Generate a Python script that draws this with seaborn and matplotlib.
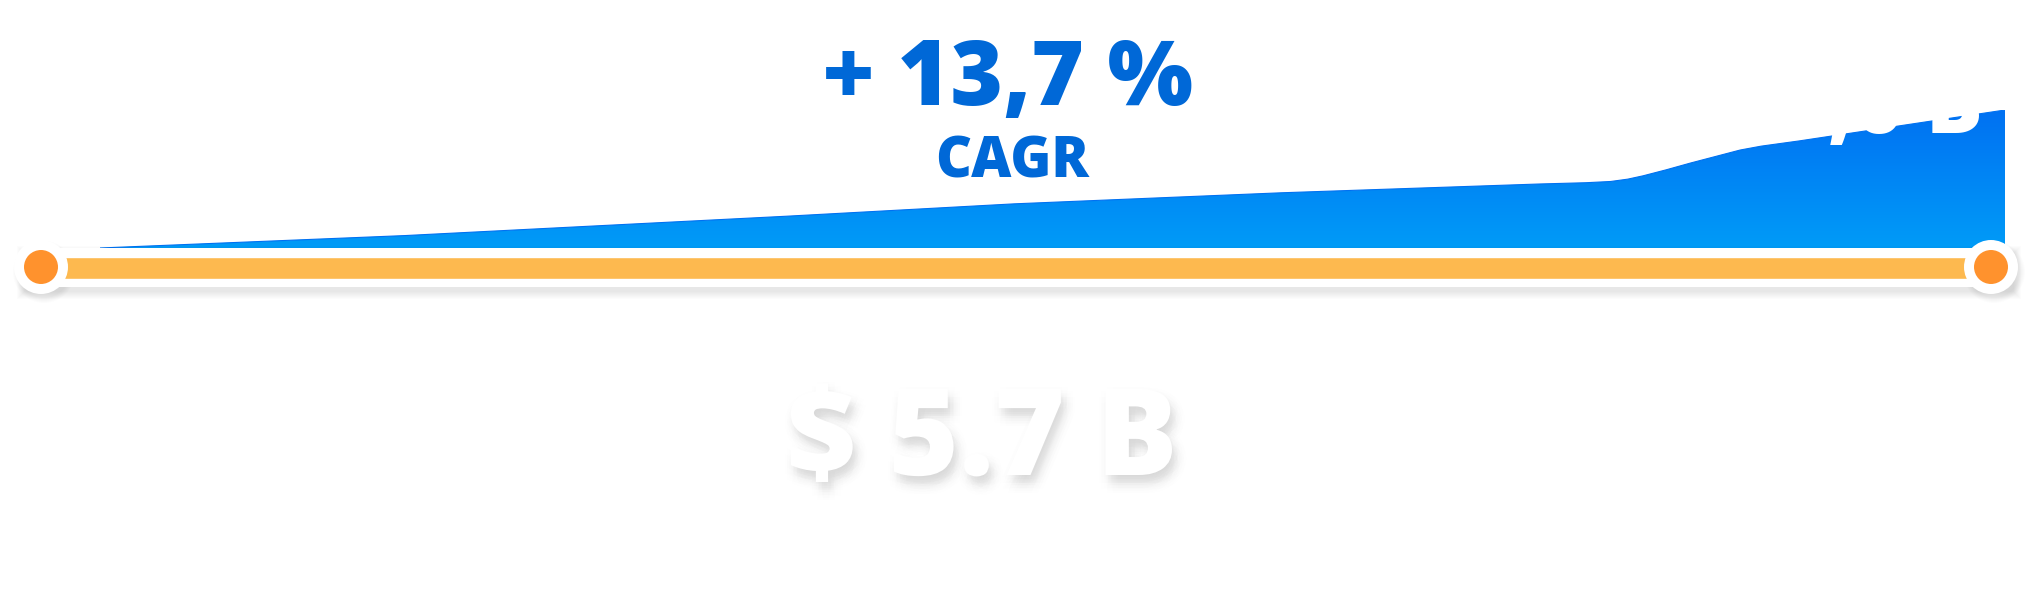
import numpy as np
import pandas as pd
import matplotlib
matplotlib.use("Agg")
import matplotlib.pyplot as plt
import matplotlib.patheffects as pe
from matplotlib.patches import Rectangle
from matplotlib.colors import LinearSegmentedColormap
import seaborn as sns

# market curve: position along the timeline (%) and height of the area (% of the last value)
timeline_pct = [0, 16, 36, 48, 62, 75.6, 78.0, 79.3, 80.2, 81.0, 82.2, 83.5, 86.1, 87.2, 89.2, 100]
market_pct = [0, 9, 23, 32, 40, 46.4, 47.3, 48.2, 49.9, 52.3, 56.6, 61.6, 71.0, 73.8, 77.6, 100]

cagr_text = "+ 13,7 %"
cagr_label = "CAGR"
start_value = "$ 5.7 B"
end_value = "$ 14,0 B"

sns.set_theme(style="white")
plt.rcParams["font.family"] = ["Open Sans", "DejaVu Sans"]

W, H = 2032, 602
fig = plt.figure(figsize=(W / 100, H / 100), dpi=100)
fig.patch.set_facecolor("white")

# area chart
ax_area = fig.add_axes([100 / W, (H - 248) / H, 1905 / W, 138 / H])
ax_area.set_zorder(1)
df = pd.DataFrame({"t": timeline_pct, "v": market_pct})
sns.lineplot(data=df, x="t", y="v", ax=ax_area, color="#0071F2", lw=0.8)
poly = ax_area.fill_between(df["t"], 0, df["v"], color="none", lw=0)
cmap = LinearSegmentedColormap.from_list("blue", ["#009BF7", "#0071F2"])
grad = np.linspace(0, 1, 256).reshape(-1, 1)
img = ax_area.imshow(grad, extent=[0, 100, 0, 100], origin="lower", cmap=cmap, aspect="auto")
img.set_clip_path(poly.get_paths()[0], transform=ax_area.transData)
ax_area.set_xlim(0, 100)
ax_area.set_ylim(0, 100)
ax_area.axis("off")

# overlay in pixel units
ax = fig.add_axes([0, 0, 1, 1])
ax.set_zorder(2)
ax.set_xlim(0, W)
ax.set_ylim(H, 0)
ax.axis("off")
ax.patch.set_alpha(0)

x0, x1, yb = 41, 1991, 267

# soft shadow under the white band
for k in range(8):
    ax.add_patch(Rectangle((x0 - 20 + 3 - k, 248 + 5 - k), x1 - x0 + 40 + 2 * k, 39 + 2 * k,
                           color="#000000", alpha=0.01, lw=0, zorder=1))
ax.add_patch(Rectangle((x0, 248), x1 - x0, 39, color="white", lw=0, zorder=2))
ax.plot([x0, x1], [yb + 1, yb + 1], color="#FDB94F", lw=20.6 * 0.72, solid_capstyle="butt", zorder=3)

# end points
for k in range(6):
    sns.scatterplot(x=[x0 + 3, x1 + 3], y=[yb + 5, yb + 5], s=(2 * (26 + k) * 0.72) ** 2,
                    color="#000000", alpha=0.011, edgecolor="none", ax=ax, zorder=1, legend=False)
sns.scatterplot(x=[x0, x1], y=[yb, yb], s=(54 * 0.72) ** 2, color="white",
                edgecolor="none", ax=ax, zorder=4, legend=False)
sns.scatterplot(x=[x0, x1], y=[yb, yb], s=(34 * 0.72) ** 2, color="#FF922D",
                edgecolor="none", ax=ax, zorder=5, legend=False)

# texts
blue = "#0068D7"
ax.text(1008, 105, cagr_text, ha="center", va="baseline", fontsize=65,
        fontweight=800, color=blue, zorder=6)
ax.text(1012, 177, cagr_label, ha="center", va="baseline", fontsize=40,
        fontweight=800, color=blue, zorder=6)

# blurred drop shadow, built from faint offset copies
shadow = []
for ang in np.linspace(0, 2 * np.pi, 10, endpoint=False):
    for r in (1.5, 3.5, 5.5, 7.5):
        shadow.append(pe.SimplePatchShadow(offset=(3 + r * np.cos(ang), -6 + r * np.sin(ang)),
                                           shadow_rgbFace="#000000", alpha=0.0045))
shadow.append(pe.Normal())
ax.text(982, 475, start_value, ha="center", va="baseline", fontsize=87,
        fontweight=800, color="white", zorder=6, path_effects=shadow)
ax.text(1983, 133, end_value, ha="right", va="baseline", fontsize=61,
        fontweight=800, color="white", zorder=6)

fig.savefig("out.png", dpi=100, facecolor="white")
